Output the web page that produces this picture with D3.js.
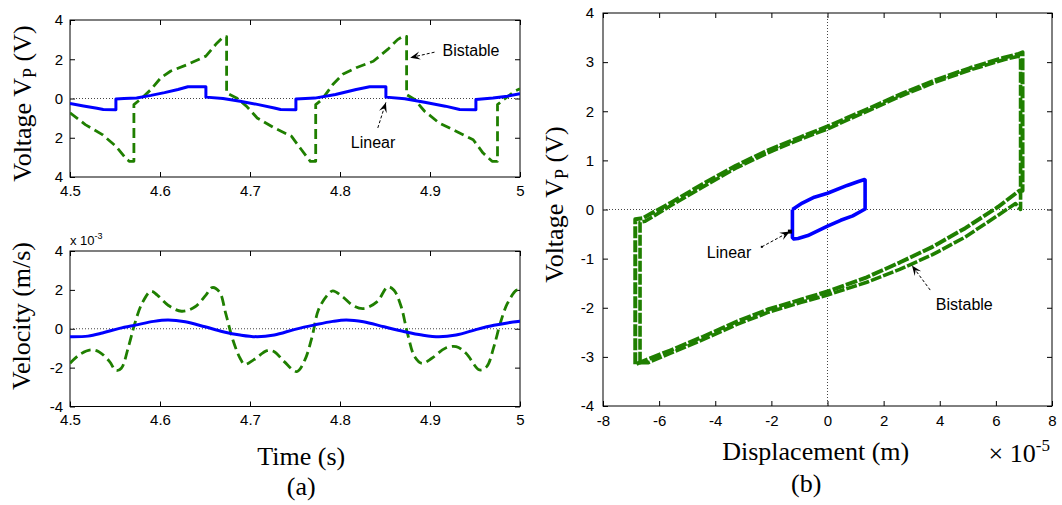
<!DOCTYPE html>
<html>
<head>
<meta charset="utf-8">
<script src="https://cdn.jsdelivr.net/npm/d3@7"></script>
<style>
  body { margin: 0; background: #fff; }
  svg { display: block; }
  .tick text { font-family: "Liberation Sans", Arial, sans-serif; font-size: 15px; fill: #000; }
  .tick line { stroke: #000; }
  .title { font-family: "Liberation Serif", "Times New Roman", serif; font-size: 26px; fill: #000; }
  .note { font-family: "Liberation Sans", Arial, sans-serif; font-size: 16px; fill: #000; }
</style>
</head>
<body>
<svg id="fig" width="1062" height="505"></svg>
<script>
// ---- tick values ----
const timeTicks = [4.5, 4.6, 4.7, 4.8, 4.9, 5];
const voltTicks = [-4, -2, 0, 2, 4];
const velTicks = [-4, -2, 0, 2, 4];
const dispTicks = [-8, -6, -4, -2, 0, 2, 4, 6, 8];
const phaseVoltTicks = [-4, -3, -2, -1, 0, 1, 2, 3, 4];

// ---- (a) top: piezo voltage vs time [t (s), V] ----
const linearVoltage = [
  [4.500,-0.26],[4.515,-0.38],[4.530,-0.50],[4.537,-0.56],[4.551,-0.57],[4.551,-0.02],
  [4.560,0.00],[4.574,0.03],[4.590,0.16],[4.605,0.30],[4.620,0.46],[4.631,0.60],
  [4.651,0.60],[4.651,0.07],[4.670,0.00],[4.689,-0.14],[4.708,-0.30],[4.727,-0.48],
  [4.734,-0.56],[4.751,-0.57],[4.751,-0.02],[4.772,0.02],[4.795,0.20],[4.818,0.46],
  [4.833,0.60],[4.851,0.60],[4.851,0.07],[4.872,-0.01],[4.894,-0.19],[4.917,-0.39],
  [4.933,-0.56],[4.951,-0.57],[4.951,-0.05],[4.970,0.02],[4.986,0.12],[5.000,0.24]
];
const bistableVoltage = [
  [4.500,-0.73],[4.517,-1.33],[4.536,-1.84],[4.551,-2.43],[4.563,-3.10],[4.566,-3.20],
  [4.571,-3.20],[4.571,-0.31],[4.578,-0.05],[4.590,0.46],[4.601,1.06],[4.612,1.40],
  [4.631,1.74],[4.651,2.16],[4.662,2.76],[4.670,3.12],[4.674,3.15],[4.674,0.29],
  [4.685,0.03],[4.696,-0.39],[4.708,-0.99],[4.727,-1.50],[4.746,-1.92],[4.757,-2.60],
  [4.767,-3.20],[4.773,-3.20],[4.773,-0.31],[4.780,-0.05],[4.792,0.71],[4.803,1.23],
  [4.818,1.57],[4.837,1.90],[4.853,2.50],[4.864,3.00],[4.870,3.17],[4.874,3.17],
  [4.874,0.20],[4.883,-0.05],[4.894,-0.65],[4.910,-1.24],[4.929,-1.67],[4.948,-2.10],
  [4.959,-2.78],[4.969,-3.20],[4.975,-3.20],[4.975,-0.31],[4.982,-0.05],[4.994,0.37],
  [5.000,0.50]
];

// ---- (a) bottom: velocity vs time [t (s), v (x1e-3 m/s)] ----
const linearVelocity = [
  [4.500,-0.41],[4.520,-0.38],[4.536,-0.22],[4.555,0.02],[4.574,0.20],[4.593,0.38],
  [4.609,0.45],[4.628,0.36],[4.650,0.10],[4.670,-0.15],[4.689,-0.32],[4.708,-0.41],
  [4.727,-0.32],[4.750,-0.03],[4.772,0.20],[4.792,0.38],[4.807,0.45],[4.826,0.36],
  [4.849,0.10],[4.872,-0.15],[4.891,-0.32],[4.910,-0.41],[4.929,-0.32],[4.952,-0.03],
  [4.971,0.18],[4.986,0.30],[5.000,0.38]
];
const bistableVelocity = [
  [4.500,-1.78],[4.510,-1.35],[4.523,-1.09],[4.532,-1.18],[4.544,-1.69],[4.551,-2.15],
  [4.557,-2.03],[4.565,-0.92],[4.572,0.27],[4.580,1.30],[4.590,1.93],[4.597,1.73],
  [4.609,1.21],[4.624,0.90],[4.639,1.13],[4.651,1.73],[4.658,2.12],[4.666,1.90],
  [4.673,0.79],[4.681,-0.58],[4.689,-1.52],[4.694,-1.83],[4.704,-1.60],[4.719,-1.13],
  [4.727,-1.18],[4.738,-1.69],[4.752,-2.20],[4.761,-1.60],[4.769,-0.41],[4.776,0.96],
  [4.786,1.73],[4.792,1.95],[4.803,1.64],[4.814,1.21],[4.826,1.04],[4.841,1.38],
  [4.853,2.15],[4.860,1.98],[4.868,1.13],[4.875,-0.24],[4.883,-1.44],[4.891,-1.78],
  [4.902,-1.52],[4.917,-1.00],[4.929,-0.92],[4.940,-1.26],[4.955,-2.12],[4.963,-1.95],
  [4.971,-0.92],[4.978,0.27],[4.986,1.30],[4.996,1.98],[5.000,2.00]
];

// ---- (b) voltage vs displacement [x (x1e-5 m), V] ----
const linearLoop = [
  [-1.25,0.00],[-0.90,0.13],[-0.47,0.25],[0.00,0.33],[0.70,0.49],[1.10,0.57],[1.32,0.61],
  [1.34,0.60],[1.34,0.01],[0.90,-0.13],[0.47,-0.22],[0.00,-0.34],[-0.70,-0.53],
  [-1.05,-0.59],[-1.20,-0.60],[-1.25,-0.57],[-1.25,0.00]
];
const bistableLoopA = [
  [-6.85,-3.15],[-6.85,-0.20],[-6.60,-0.18],[-5.61,0.13],[-4.44,0.52],[-3.27,0.89],
  [-2.10,1.21],[-0.93,1.48],[0.00,1.69],[1.45,2.05],[2.66,2.36],[3.87,2.64],[5.08,2.88],
  [6.28,3.09],[6.77,3.16],[6.95,3.20],[6.95,0.38],[6.83,0.38],[6.07,0.05],[4.91,-0.38],
  [3.74,-0.76],[2.57,-1.08],[1.40,-1.38],[0.00,-1.67],[-0.93,-1.83],[-2.10,-2.03],
  [-3.27,-2.29],[-4.44,-2.59],[-5.61,-2.87],[-6.54,-3.08],[-6.85,-3.15]
];
const bistableLoopB = [
  [-6.68,-3.12],[-6.68,-0.26],[-6.50,-0.24],[-5.61,0.07],[-4.44,0.46],[-3.27,0.84],
  [-2.10,1.16],[-0.93,1.44],[0.00,1.64],[1.45,2.01],[2.66,2.32],[3.87,2.60],[5.08,2.84],
  [6.28,3.05],[6.80,3.12],[6.88,3.10],[6.88,0.00],[6.70,0.12],[6.07,-0.12],[4.91,-0.56],
  [3.74,-0.92],[2.57,-1.22],[1.40,-1.48],[0.00,-1.74],[-0.93,-1.89],[-2.10,-2.09],
  [-3.27,-2.35],[-4.44,-2.65],[-5.61,-2.93],[-6.40,-3.12],[-6.68,-3.12]
];

const BLUE = "#0000ff";
const GREEN = "#1f7f00";

const svg = d3.select("#fig");

// ---- scales ----
const xTime = d3.scaleLinear().domain([4.5, 5]).range([70, 520]);
const yVolt = d3.scaleLinear().domain([-4, 4]).range([177, 20]);
const yVel = d3.scaleLinear().domain([-4, 4]).range([406.5, 251]);
const xDisp = d3.scaleLinear().domain([-8, 8]).range([603, 1052]);
const yPhase = d3.scaleLinear().domain([-4, 4]).range([406, 13]);

// Box axes with inward ticks on all four sides
function drawAxes(xs, ys, xTicks, yTicks, yFmt, xPad, yPad, id) {
  const [xa, xb] = xs.range();
  const [yb, ya] = ys.range();
  const g = svg.append("g");
  g.append("g").attr("transform", `translate(0,${yb})`)
    .call(d3.axisBottom(xs).tickValues(xTicks).tickSizeInner(-5).tickSizeOuter(0)
      .tickPadding(xPad).tickFormat(d => String(d)));
  g.append("g").attr("transform", `translate(0,${ya})`)
    .call(d3.axisTop(xs).tickValues(xTicks).tickSizeInner(-5).tickSizeOuter(0).tickFormat(""));
  g.append("g").attr("transform", `translate(${xa},0)`)
    .call(d3.axisLeft(ys).tickValues(yTicks).tickSizeInner(-5).tickSizeOuter(0)
      .tickPadding(yPad).tickFormat(yFmt));
  g.append("g").attr("transform", `translate(${xb},0)`)
    .call(d3.axisRight(ys).tickValues(yTicks).tickSizeInner(-5).tickSizeOuter(0).tickFormat(""));
  g.selectAll(".domain").remove();
  g.append("rect").attr("x", xa).attr("y", ya).attr("width", xb - xa).attr("height", yb - ya)
    .attr("fill", "none").attr("stroke", "#000").attr("stroke-width", 1);
  svg.append("clipPath").attr("id", id).append("rect")
    .attr("x", xa).attr("y", ya).attr("width", xb - xa).attr("height", yb - ya);
}

function dotted(x1, y1, x2, y2, color) {
  svg.append("line").attr("x1", x1).attr("y1", y1).attr("x2", x2).attr("y2", y2)
    .attr("stroke", color || "#444").attr("stroke-width", 1).attr("stroke-dasharray", "1,2");
}

function series(data, xs, ys, clip, color, width, dash, curve) {
  const line = d3.line().x(d => xs(d[0])).y(d => ys(d[1])).curve(curve || d3.curveLinear);
  svg.append("path").datum(data).attr("d", line).attr("clip-path", `url(#${clip})`)
    .attr("fill", "none").attr("stroke", color).attr("stroke-width", width)
    .attr("stroke-dasharray", dash || null).attr("stroke-linejoin", "round");
}

function arrow(x1, y1, x2, y2) {
  svg.append("line").attr("x1", x1).attr("y1", y1).attr("x2", x2).attr("y2", y2)
    .attr("stroke", "#000").attr("stroke-width", 1).attr("stroke-dasharray", "3,2");
  const a = Math.atan2(y2 - y1, x2 - x1);
  const L = 10, W = 4;
  const bx = x2 - L * Math.cos(a), by = y2 - L * Math.sin(a);
  const nx = x2 - 0.6 * L * Math.cos(a), ny = y2 - 0.6 * L * Math.sin(a);
  const px = -Math.sin(a) * W, py = Math.cos(a) * W;
  svg.append("path")
    .attr("d", `M${x2},${y2}L${bx + px},${by + py}L${nx},${ny}L${bx - px},${by - py}Z`)
    .attr("fill", "#000");
}

function note(x, y, txt) {
  svg.append("text").attr("class", "note").attr("x", x).attr("y", y).text(txt);
}

// ===== (a) top: voltage =====
drawAxes(xTime, yVolt, timeTicks, voltTicks, d => String(Math.abs(d)), 8, 7, "clipV");
dotted(xTime(4.5), yVolt(0), xTime(5), yVolt(0));
series(bistableVoltage, xTime, yVolt, "clipV", GREEN, 2.8, "10,5");
series(linearVoltage, xTime, yVolt, "clipV", BLUE, 3);
note(xTime(4.914), yVolt(2.15), "Bistable");
arrow(xTime(4.905), yVolt(2.36), xTime(4.878), yVolt(2.08));
note(xTime(4.812), yVolt(-2.52), "Linear");
arrow(xTime(4.842), yVolt(-1.5), xTime(4.851), yVolt(-0.2));

// ===== (a) bottom: velocity =====
drawAxes(xTime, yVel, timeTicks, velTicks, d => String(d), 8, 7, "clipU");
dotted(xTime(4.5), yVel(0), xTime(5), yVel(0));
series(bistableVelocity, xTime, yVel, "clipU", GREEN, 2.8, "10,5", d3.curveCatmullRom.alpha(0.5));
series(linearVelocity, xTime, yVel, "clipU", BLUE, 3, null, d3.curveCatmullRom.alpha(0.5));
const expA = svg.append("text").attr("class", "note").attr("x", xTime(4.5)).attr("y", 245)
  .style("font-size", "13px");
expA.append("tspan").text("x 10");
expA.append("tspan").attr("dy", -6).style("font-size", "9px").text("-3");

// ===== (b) phase portrait =====
drawAxes(xDisp, yPhase, dispTicks, phaseVoltTicks, d => String(d), 9, 9, "clipP");
dotted(xDisp(0), yPhase(4), xDisp(0), yPhase(-4));
dotted(xDisp(-8), yPhase(0), xDisp(8), yPhase(0));
series(bistableLoopA, xDisp, yPhase, "clipP", GREEN, 4, "12,2");
series(bistableLoopB, xDisp, yPhase, "clipP", GREEN, 3.6, "11,2");
series(linearLoop, xDisp, yPhase, "clipP", BLUE, 3.6);
note(xDisp(-4.3), yPhase(-0.99), "Linear");
arrow(xDisp(-2.34), yPhase(-0.76), xDisp(-1.34), yPhase(-0.45));
svg.append("rect").attr("x", xDisp(-1.34) - 2).attr("y", yPhase(-0.45) - 2)
  .attr("width", 4).attr("height", 4).attr("fill", "#000");
svg.append("rect").attr("x", xDisp(-2.34) - 1).attr("y", yPhase(-0.76) - 1)
  .attr("width", 2).attr("height", 2).attr("fill", "#000");
note(xDisp(3.86), yPhase(-2.05), "Bistable");
arrow(xDisp(3.66), yPhase(-1.64), xDisp(3.01), yPhase(-1.14));

// ===== axis titles =====
function yTitle(x, y, main, sub, tail) {
  const t = svg.append("text").attr("class", "title")
    .attr("transform", `translate(${x},${y}) rotate(-90)`).attr("text-anchor", "middle");
  t.append("tspan").text(main);
  if (sub) {
    t.append("tspan").attr("dy", 5).style("font-size", "18px").text(sub);
    t.append("tspan").attr("dy", -5).text(tail);
  }
}
yTitle(31, yVolt(-0.26), "Voltage V", "P", " (V)");
yTitle(30, 316, "Velocity (m/s)");
yTitle(563, yPhase(0.1), "Voltage V", "P", " (V)");

svg.append("text").attr("class", "title").attr("x", xTime(4.757)).attr("y", 465)
  .attr("text-anchor", "middle").text("Time (s)");
svg.append("text").attr("class", "title").attr("x", xTime(4.757)).attr("y", 495)
  .attr("text-anchor", "middle").text("(a)");
svg.append("text").attr("class", "title").attr("x", xDisp(-0.42)).attr("y", 460)
  .attr("text-anchor", "middle").text("Displacement (m)");
svg.append("text").attr("class", "title").attr("x", xDisp(-0.76)).attr("y", 492)
  .attr("text-anchor", "middle").text("(b)");
const expB = svg.append("text").attr("class", "title").attr("x", xDisp(5.74)).attr("y", 462);
expB.append("tspan").text("\u00d7 10");
expB.append("tspan").attr("dy", -11).style("font-size", "17px").text("-5");
</script>
</body>
</html>
